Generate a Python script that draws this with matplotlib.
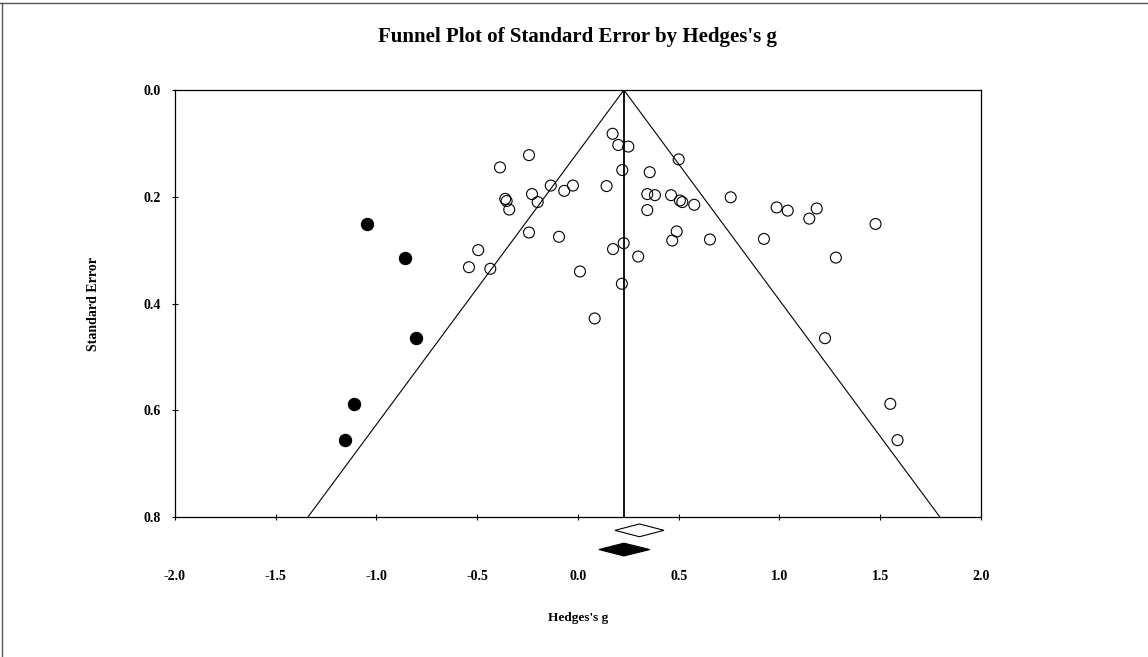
# -*- coding: utf-8 -*-
import numpy as np
import matplotlib
matplotlib.use('Agg')
import matplotlib.pyplot as plt
from matplotlib.patches import Polygon
from matplotlib.lines import Line2D

plt.rcParams['font.family'] = ['Liberation Serif', 'DejaVu Serif']
plt.rcParams['font.weight'] = 'bold'

# %% observed studies (Hedges's g, standard error)
observed_g = [0.172, 0.200, 0.250, -0.243, -0.387, 0.500, 0.220, 0.356,
              -0.135, -0.025, -0.068, 0.142, -0.228, -0.361, -0.354, -0.341,
              -0.200, 0.344, 0.382, 0.462, 0.506, 0.518, 0.577, 0.344,
              0.758, 0.986, 1.041, 1.185, 1.148, 1.477, 1.280, 0.655, 0.923,
              -0.243, -0.094, 0.490, 0.468, -0.495, 0.174, 0.227, 0.299,
              -0.541, -0.435, 0.010, 0.218, 0.083,
              1.226, 1.550, 1.586]
observed_se = [0.082, 0.103, 0.106, 0.122, 0.145, 0.130, 0.150, 0.154,
               0.179, 0.179, 0.189, 0.180, 0.195, 0.204, 0.208, 0.224,
               0.210, 0.195, 0.197, 0.197, 0.207, 0.210, 0.215, 0.225,
               0.201, 0.220, 0.226, 0.222, 0.241, 0.251, 0.314, 0.280, 0.279,
               0.267, 0.275, 0.265, 0.282, 0.300, 0.298, 0.287, 0.312,
               0.332, 0.335, 0.340, 0.363, 0.428,
               0.465, 0.588, 0.656]

# imputed studies (trim and fill)
imputed_g = [-1.047, -0.857, -0.804, -1.113, -1.156]
imputed_se = [0.251, 0.314, 0.465, 0.588, 0.656]

# summary effects: point estimate, lower, upper
observed_summary = [0.305, 0.184, 0.427]
adjusted_summary = [0.228, 0.104, 0.357]

x_ticks = [-2.0, -1.5, -1.0, -0.5, 0.0, 0.5, 1.0, 1.5, 2.0]
y_ticks = [0.0, 0.2, 0.4, 0.6, 0.8]

# %% figure
fig = plt.figure(figsize=(11.48, 6.57), dpi=100, facecolor='w')
ax = fig.add_axes([0.1524, 0.2131, 0.7021, 0.6499])

se_max = 0.8
mean = adjusted_summary[0]
# funnel
ax.plot([mean - 1.96 * se_max, mean, mean + 1.96 * se_max], [se_max, 0, se_max],
        color='k', lw=0.8)
ax.plot([mean, mean], [0, se_max], color='k', lw=1.3)

ax.scatter(observed_g, observed_se, s=62, facecolors='none', edgecolors='k',
           linewidths=0.8, zorder=3)
ax.scatter(imputed_g, imputed_se, s=78, facecolors='k', edgecolors='k',
           linewidths=0.8, zorder=3)

# summary diamonds below the axis
def diamond(summary, yc, face):
    m, lo, hi = summary
    h = 0.012
    p = Polygon([[lo, yc], [m, yc - h], [hi, yc], [m, yc + h]], closed=True,
                facecolor=face, edgecolor='k', lw=0.8, clip_on=False)
    ax.add_patch(p)

diamond(observed_summary, 0.825, 'w')
diamond(adjusted_summary, 0.861, 'k')

ax.set_xlim(-2.0, 2.0)
ax.set_ylim(se_max, 0.0)
ax.set_xticks(x_ticks)
ax.set_yticks(y_ticks)
ax.set_xticklabels(['%.1f' % v for v in x_ticks])
ax.set_yticklabels(['%.1f' % v for v in y_ticks])
ax.tick_params(axis='x', direction='inout', length=4, width=0.8, pad=36,
               labelsize=10)
ax.tick_params(axis='y', direction='inout', length=4, width=0.8, pad=8,
               labelsize=10)
for s in ax.spines.values():
    s.set_linewidth(0.9)

ax.set_xlabel("Hedges's g", fontsize=9.5, fontweight='bold')
ax.xaxis.set_label_coords(0.5, -0.222)
ax.set_ylabel('Standard Error', fontsize=10, fontweight='bold')
ax.yaxis.set_label_coords(-0.093, 0.5)
ax.text(0.5, 1.124, "Funnel Plot of Standard Error by Hedges's g",
        transform=ax.transAxes, ha='center', va='center', fontsize=15,
        fontweight='bold')

# outer frame (top and left)
fig.add_artist(Line2D([0.0017, 0.0017], [0.0, 0.9954], color='#555555', lw=1))
fig.add_artist(Line2D([0.0, 1.0], [0.9954, 0.9954], color='#555555', lw=1))

fig.savefig('out.png', dpi=100, facecolor='w')
